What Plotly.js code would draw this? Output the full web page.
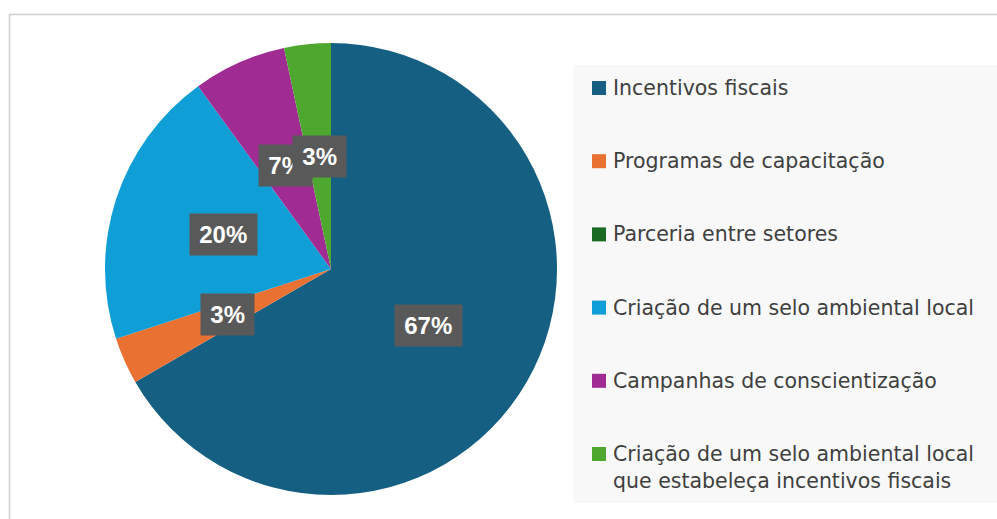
<!DOCTYPE html>
<html>
<head>
<meta charset="utf-8">
<script src="https://cdn.plot.ly/plotly-3.0.1.min.js"></script>
<style>html,body{margin:0;padding:0;background:#fff;}#chart{width:997px;height:519px;}</style>
</head>
<body>
<div id="chart"></div>
<script>
// ---- data ----
const categories = [
  "Incentivos fiscais",
  "Programas de capacitação",
  "Parceria entre setores",
  "Criação de um selo ambiental local",
  "Campanhas de conscientização",
  "Criação de um selo ambiental local<br>que estabeleça incentivos fiscais"
];
const counts = [20, 1, 0, 6, 2, 1];
const colors = ["#156082", "#E97132", "#196B24", "#0F9ED5", "#A02B93", "#4EA72E"];

// ---- layout geometry (pixels) ----
const W = 997, H = 519;
const cx = 331, cy = 269, R = 226;
const px = x => x / W;
const py = y => 1 - y / H;

const total = counts.reduce((a, b) => a + b, 0);

// data labels placed at mid-angle of each slice (like Excel "center")
const annotations = [];
let cum = 0;
counts.forEach((v, i) => {
  const mid = (cum + v / 2) / total * 2 * Math.PI;
  cum += v;
  if (v === 0) return;
  const txt = Math.round(v / total * 100) + "%";
  const lx = cx + 0.5 * R * Math.sin(mid);
  const ly = cy - 0.5 * R * Math.cos(mid);
  annotations.push({
    xref: "paper", yref: "paper", x: px(lx), y: py(ly),
    xanchor: "center", yanchor: "middle", showarrow: false,
    text: "<b>" + txt + "</b>",
    font: {family: "Liberation Sans, Arial, sans-serif", size: 24, color: "#FFFFFF"},
    bgcolor: "#595959", borderpad: 0,
    width: 13.3 * (txt.length - 1) + 40, height: 41
  });
});

// legend (manual, to match the spacing)
const shapes = [
  {type: "rect", xref: "paper", yref: "paper", x0: px(9.5), y0: py(14.5), x1: 1.05, y1: -0.05,
   line: {color: "#CFCFCF", width: 1.5}, fillcolor: "rgba(0,0,0,0)", layer: "below"},
  {type: "rect", xref: "paper", yref: "paper", x0: px(573), y0: py(65), x1: 1.0, y1: py(503),
   line: {width: 0}, fillcolor: "#F8F8F8", layer: "below"}
];
const legTop = 88, legStep = 73.2, lineH = 28;
categories.forEach((c, i) => {
  const yc = legTop + i * legStep;
  shapes.push({type: "rect", xref: "paper", yref: "paper",
    x0: px(592), x1: px(606), y0: py(yc - 7), y1: py(yc + 7),
    line: {width: 0}, fillcolor: colors[i]});
  annotations.push({
    xref: "paper", yref: "paper", x: px(611), y: py(yc - lineH / 2),
    xanchor: "left", yanchor: "top", align: "left", showarrow: false,
    text: c,
    font: {family: "DejaVu Sans, sans-serif", size: 20.5, color: "#404040"}
  });
});

const trace = {
  type: "pie",
  labels: categories,
  values: counts,
  sort: false,
  direction: "clockwise",
  rotation: 0,
  textinfo: "none",
  hoverinfo: "label+percent",
  showlegend: false,
  marker: {colors: colors, line: {width: 0}},
  domain: {x: [px(cx - R), px(cx + R)], y: [py(cy + R), py(cy - R)]}
};

const layout = {
  width: W, height: H,
  margin: {l: 0, r: 0, t: 0, b: 0},
  paper_bgcolor: "#FFFFFF",
  showlegend: false,
  shapes: shapes,
  annotations: annotations
};

Plotly.newPlot("chart", [trace], layout, {displayModeBar: false, staticPlot: true});
</script>
</body>
</html>
